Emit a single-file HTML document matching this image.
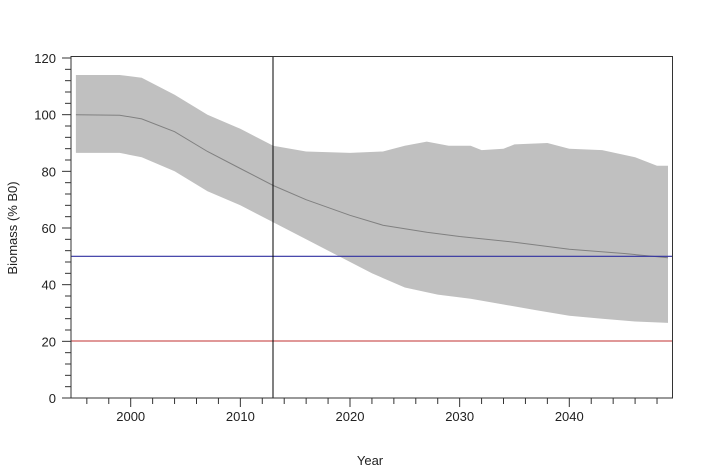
<!DOCTYPE html><html><head><style>body{margin:0;background:#fff}svg{display:block;font-family:"Liberation Sans",Arial,sans-serif}</style></head><body>
<svg id="s" width="710" height="473" xmlns="http://www.w3.org/2000/svg">
<path id="band" fill="#c0c0c0"/>
<polyline id="med" fill="none" stroke="#808080" stroke-width="1"/>
<line x1="71" x2="672.5" y1="256.3" y2="256.3" stroke="#3030a0" stroke-width="1.2"/>
<line x1="71" x2="672.5" y1="341" y2="341" stroke="#c03030" stroke-width="1"/>
<line x1="273" x2="273" y1="56.5" y2="398" stroke="#000" stroke-width="1"/>
<rect x="71" y="56.5" width="601.5" height="341.5" fill="none" stroke="#333" stroke-width="1"/>
<g id="ticks" stroke="#333" stroke-width="1"></g>
<g id="labs" font-size="13" fill="#222"></g>
<text x="370" y="465" font-size="13" text-anchor="middle" fill="#222">Year</text>
<text transform="translate(17,228) rotate(-90)" font-size="13" text-anchor="middle" fill="#222">Biomass (% B0)</text>
</svg>
<script>
const X=y=>130.7+(y-2000)*10.965, Y=v=>398-v*2.8333;
const up=[[1995,114],[1999,114],[2001,113],[2004,107],[2007,100],[2010,95],[2013,89],[2016,87],[2020,86.5],[2023,87],[2025,89],[2027,90.5],[2029,89],[2031,89],[2032,87.5],[2034,88],[2035,89.5],[2038,90],[2040,88],[2043,87.5],[2046,85],[2048,82],[2049,82]];
const lo=[[1995,86.5],[1999,86.5],[2001,85],[2004,80],[2007,73],[2010,68],[2013,62],[2016,56],[2019,50],[2022,44],[2025,39],[2028,36.5],[2031,35],[2034,33],[2037,31],[2040,29],[2043,28],[2046,27],[2049,26.5]];
const md=[[1995,100],[1999,99.8],[2001,98.5],[2004,94],[2007,87],[2010,81],[2013,75],[2016,70],[2020,64.5],[2023,61],[2027,58.5],[2030,57],[2035,55],[2040,52.5],[2045,51],[2049,49.5]];
const p=a=>a.map(([x,v])=>X(x).toFixed(1)+','+Y(v).toFixed(1));
document.getElementById('band').setAttribute('d','M'+p(up).join('L')+'L'+p(lo.slice().reverse()).join('L')+'Z');
document.getElementById('med').setAttribute('points',p(md).join(' '));
let t='',l='';
for(let v=0;v<=120;v+=4){const y=Y(v);t+=`<line x1="${v%20?65:62}" x2="71" y1="${y}" y2="${y}"/>`;if(v%20==0)l+=`<text x="56" y="${y+5}" text-anchor="end">${v}</text>`;}
for(let yr=1996;yr<=2048;yr+=2){const x=X(yr);t+=`<line x1="${x}" x2="${x}" y1="398" y2="${yr%10?404:407}"/>`;if(yr%10==0)l+=`<text x="${x}" y="421" text-anchor="middle">${yr}</text>`;}
document.getElementById('ticks').innerHTML=t;document.getElementById('labs').innerHTML=l;
</script></body></html>
